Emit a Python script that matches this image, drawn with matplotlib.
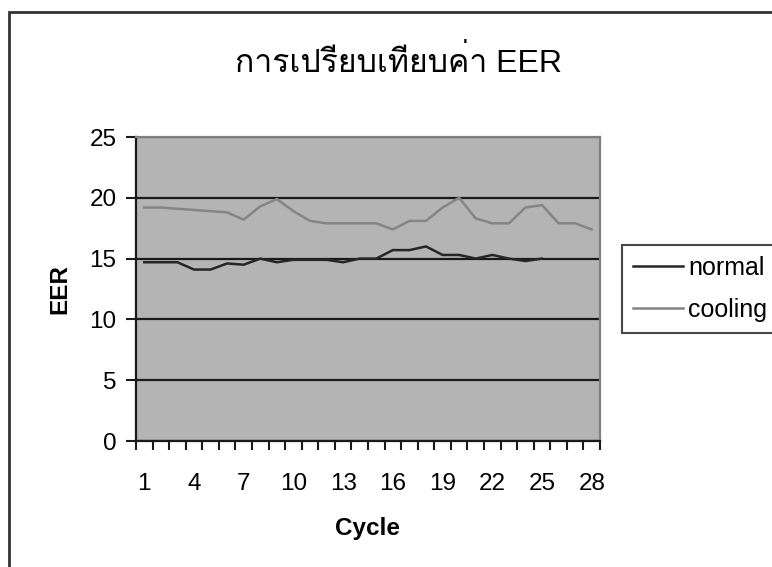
import numpy as np
import matplotlib
matplotlib.use('Agg')
import matplotlib.pyplot as plt
from matplotlib import font_manager, ft2font
from matplotlib.patches import Rectangle

cycles = np.arange(1, 29)
normal = [14.7, 14.7, 14.7, 14.1, 14.1, 14.6, 14.5, 15.0, 14.7, 14.9, 14.9, 14.9, 14.7,
          15.0, 15.0, 15.7, 15.7, 16.0, 15.3, 15.3, 15.0, 15.3, 15.0, 14.8, 15.0]
cooling = [19.2, 19.2, 19.1, 19.0, 18.9, 18.8, 18.2, 19.3, 19.9, 18.9, 18.1, 17.9, 17.9, 17.9,
           17.9, 17.4, 18.1, 18.1, 19.2, 20.0, 18.3, 17.9, 17.9, 19.2, 19.4, 17.9, 17.9, 17.4]
xlabels = [str(c) for c in cycles[::3]]
title = 'การเปรียบเทียบค่า EER'

# look for an installed font that has Thai letters
thai_fonts = []
for f in font_manager.fontManager.ttflist:
    try:
        if 0x0E01 in ft2font.FT2Font(f.fname).get_charmap() and f.name not in thai_fonts:
            thai_fonts.append(f.name)
    except Exception:
        pass

plt.rcParams['font.family'] = ['Liberation Sans', 'DejaVu Sans'] + thai_fonts

fig = plt.figure(figsize=(7.72, 5.67), dpi=100)
ax = fig.add_axes([136/772, 1-441/567, 464/772, 304/567])
ax.set_facecolor('#b4b4b4')

# chart area border
fig.patches.append(Rectangle((9/772, -0.1), 1.2, 1.1 - 12/567, transform=fig.transFigure,
                             fill=False, edgecolor='#333333', lw=2, clip_on=False))

ax.plot(cycles[:len(normal)], normal, color='#262626', lw=1.8, label='normal')
ax.plot(cycles, cooling, color='#858585', lw=1.8, label='cooling')

ax.set_xlim(0.5, 28.5)
ax.set_ylim(0, 25)
ax.set_yticks(np.arange(0, 26, 5))
ax.yaxis.grid(True, color='#1a1a1a', lw=1.6)
ax.set_axisbelow(True)

ax.set_xticks(np.arange(0.5, 29, 1))
ax.set_xticklabels([])
ax.set_xticks(cycles[::3], minor=True)
ax.set_xticklabels(xlabels, minor=True)
ax.tick_params(axis='x', which='major', direction='out', length=6.5, width=1.5, color='#1a1a1a')
ax.tick_params(axis='x', which='minor', length=0, pad=23, labelsize=17.5)
ax.tick_params(axis='y', direction='out', length=7, width=1.5, color='#1a1a1a', labelsize=17.5, pad=7)

for s in ['left', 'bottom']:
    ax.spines[s].set_color('#1a1a1a')
    ax.spines[s].set_linewidth(1.6)
for s in ['top', 'right']:
    ax.spines[s].set_color('#808080')
    ax.spines[s].set_linewidth(1.6)

ax.set_xlabel('Cycle', fontsize=17.5, fontweight='bold', labelpad=16)
ax.set_ylabel('EER', fontsize=17.5, fontweight='bold', labelpad=13)
fig.text(398/772, 1-62/567, title, ha='center', va='center', fontsize=23)

leg = ax.legend(loc='upper left', bbox_to_anchor=(622/772, 1-245/567), bbox_transform=fig.transFigure,
                fontsize=18, frameon=True, fancybox=False, edgecolor='#1a1a1a',
                handlelength=2.0, handletextpad=0.2, labelspacing=0.72, borderpad=0.45,
                borderaxespad=0)
leg.get_frame().set_linewidth(1.5)

fig.savefig('out.png', dpi=100)
